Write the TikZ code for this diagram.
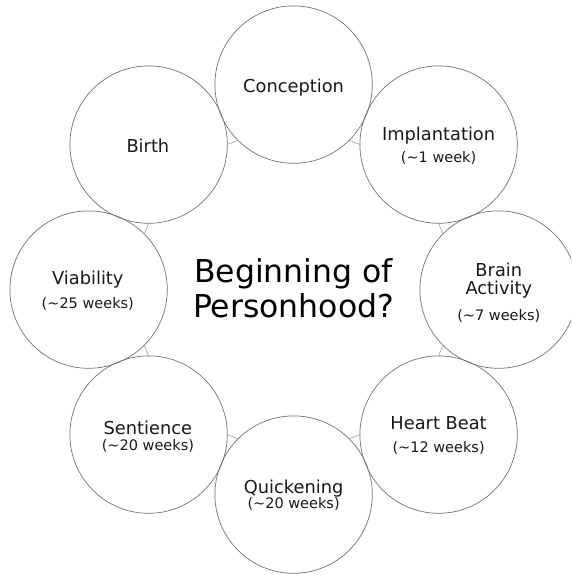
\documentclass[tikz,border=0pt]{standalone}
\usepackage{fontspec}
\setmainfont{DejaVu Sans}
\begin{document}
\begin{tikzpicture}[x=1pt,y=-1pt,
  ring/.style={circle, draw=black!55, line width=0.7pt, minimum size=157.4pt, inner sep=0pt, outer sep=0pt},
  link/.style={draw=black!35, line width=0.7pt},
  lbl/.style={anchor=base, inner sep=0pt, font=\fontsize{17.8}{20}\selectfont, text=black!90},
  sub/.style={anchor=base, inner sep=0pt, font=\fontsize{14.5}{17}\selectfont, text=black!90},
  hubtext/.style={anchor=base, inner sep=0pt, font=\fontsize{31.5}{36}\selectfont, text=black}]
\path[fill=white, use as bounding box] (0,0) rectangle (571,575);
\begin{scope}
\clip (0,0) rectangle (571,575);
\node[ring] (conc)  at (293.6, 84.6) {};
\node[ring] (impl)  at (438.6,144.6) {};
\node[ring] (brain) at (498.6,289.6) {};
\node[ring] (heart) at (438.6,434.6) {};
\node[ring] (quick) at (293.6,494.6) {};
\node[ring] (sent)  at (148.6,434.6) {};
\node[ring] (via)   at ( 88.6,289.6) {};
\node[ring] (birth) at (148.6,144.6) {};
\end{scope}
\draw[link] (conc.315)  -- (impl.180);
\draw[link] (impl.270)  -- (brain.135);
\draw[link] (brain.225) -- (heart.90);
\draw[link] (heart.180) -- (quick.45);
\draw[link] (quick.135) -- (sent.0);
\draw[link] (sent.90)   -- (via.315);
\draw[link] (via.45)    -- (birth.270);
\draw[link] (birth.0)   -- (conc.225);
\node[lbl] (tconc)  at (293.6, 92.2) {Conception};
\node[lbl] (timpl)  at (438.6,140.0) {Implantation};
\node[sub] (simpl)  at (438.6,162.5) {(\textasciitilde1 week)};
\node[lbl] (tbrain) at (498.8,276.0) {Brain};
\node[lbl] (tact)   at (498.8,294.5) {Activity};
\node[sub] (sbrain) at (498.8,320.0) {(\textasciitilde7 weeks)};
\node[lbl] (theart) at (438.6,429.0) {Heart Beat};
\node[sub] (sheart) at (438.6,452.5) {(\textasciitilde12 weeks)};
\node[lbl] (tquick) at (293.6,493.0) {Quickening};
\node[sub] (squick) at (293.6,508.5) {(\textasciitilde20 weeks)};
\node[lbl] (tsent)  at (147.9,434.0) {Sentience};
\node[sub] (ssent)  at (147.9,450.0) {(\textasciitilde20 weeks)};
\node[lbl] (tvia)   at ( 87.8,284.0) {Viability};
\node[sub] (svia)   at ( 87.8,308.0) {(\textasciitilde25 weeks)};
\node[lbl] (tbirth) at (147.9,152.3) {Birth};
\node[hubtext] (hub1) at (293.6,282.2) {Beginning of};
\node[hubtext] (hub2) at (293.6,317.5) {Personhood?};
\end{tikzpicture}
\end{document}
